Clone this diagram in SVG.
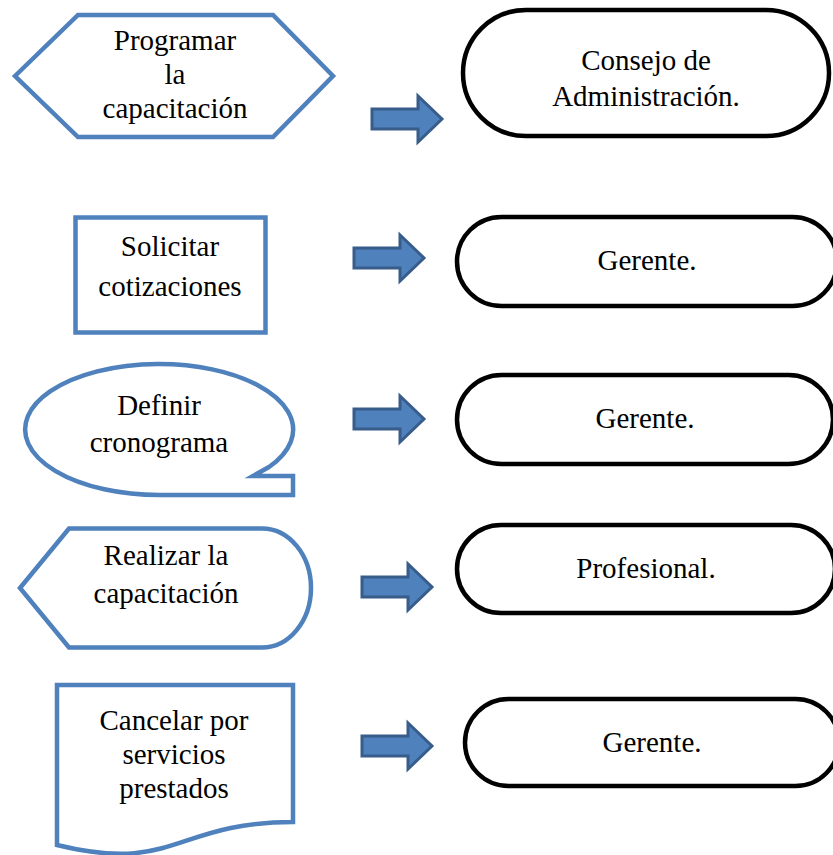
<svg xmlns="http://www.w3.org/2000/svg" xmlns:xlink="http://www.w3.org/1999/xlink" width="833" height="855" viewBox="0 0 833 855">
  <style>
    .step { fill: #ffffff; stroke: #4F81BD; stroke-width: 4.5; stroke-linejoin: miter; }
    .role { fill: #ffffff; stroke: #000000; stroke-width: 4.5; }
    .lbl { font-family: 'Liberation Serif', Tinos, 'Times New Roman', 'DejaVu Serif', serif; font-size: 29px; fill: #000000; text-anchor: middle; }
    .arrow { fill: #4F81BD; stroke: #385D8A; stroke-width: 3; stroke-linejoin: miter; }
  </style>
  <defs>
    <!-- block arrow, origin at the tail, centred vertically -->
    <path id="blockArrow" class="arrow" d="M0,-10 H46 V-23 L70,0 L46,23 V10 H0 Z"/>
  </defs>
  <rect width="833" height="855" fill="#ffffff"/>

  <!-- activities (left column) -->
  <g id="programar" font-family="Liberation Serif, serif">
    <path class="step" d="M15,76 L78,15 H273 L333,76 L273,137 H78 Z"/>
    <text class="lbl" x="175" y="50">Programar</text>
    <text class="lbl" x="175" y="84">la</text>
    <text class="lbl" x="175" y="118">capacitación</text>
  </g>

  <g id="solicitar">
    <rect class="step" x="75.5" y="217.5" width="190" height="115"/>
    <text class="lbl" x="170" y="256">Solicitar</text>
    <text class="lbl" x="170" y="296">cotizaciones</text>
  </g>

  <g id="definir">
    <path class="step" d="M269,467 L253,476 H293 V495 H159 A134,65.5 0 1 1 269,467 Z"/>
    <text class="lbl" x="159" y="415">Definir</text>
    <text class="lbl" x="159" y="452">cronograma</text>
  </g>

  <g id="realizar">
    <path class="step" d="M20,588 L69,528.5 H262 A49,59.5 0 0 1 262,647.5 H69 Z"/>
    <text class="lbl" x="166" y="565">Realizar la</text>
    <text class="lbl" x="166" y="603">capacitación</text>
  </g>

  <g id="cancelar">
    <path class="step" d="M57,685 H293 V822 C175,822 175,874 57,845 Z"/>
    <text class="lbl" x="174" y="730">Cancelar por</text>
    <text class="lbl" x="174" y="764">servicios</text>
    <text class="lbl" x="174" y="798">prestados</text>
  </g>

  <!-- responsible (right column) -->
  <g id="consejo">
    <rect class="role" x="463" y="10" width="366" height="126" rx="63" ry="63"/>
    <text class="lbl" x="646" y="70">Consejo de</text>
    <text class="lbl" x="646" y="106">Administración.</text>
  </g>

  <g id="gerente-1">
    <rect class="role" x="457" y="217" width="380" height="89" rx="44.5" ry="44.5"/>
    <text class="lbl" x="647" y="270">Gerente.</text>
  </g>

  <g id="gerente-2">
    <rect class="role" x="457" y="375" width="376" height="89" rx="44.5" ry="44.5"/>
    <text class="lbl" x="645" y="428">Gerente.</text>
  </g>

  <g id="profesional">
    <rect class="role" x="457" y="525" width="378" height="88" rx="44" ry="44"/>
    <text class="lbl" x="646" y="578">Profesional.</text>
  </g>

  <g id="gerente-3">
    <rect class="role" x="465" y="699" width="374" height="87" rx="43.5" ry="43.5"/>
    <text class="lbl" x="652" y="752">Gerente.</text>
  </g>

  <!-- connectors -->
  <g id="connectors">
    <use xlink:href="#blockArrow" transform="translate(372,119)"/>
    <use xlink:href="#blockArrow" transform="translate(354,258)"/>
    <use xlink:href="#blockArrow" transform="translate(354,419)"/>
    <use xlink:href="#blockArrow" transform="translate(362,587)"/>
    <use xlink:href="#blockArrow" transform="translate(362,746)"/>
  </g>
</svg>
